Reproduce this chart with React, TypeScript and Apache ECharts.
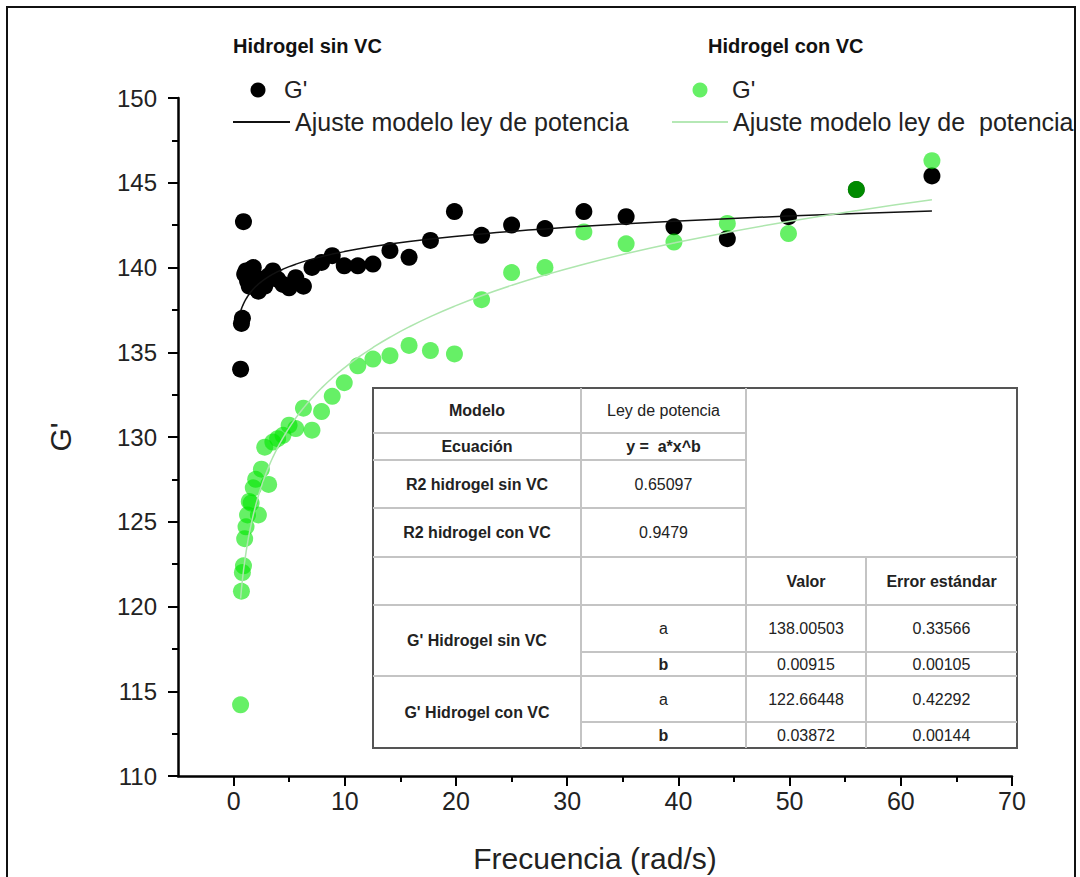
import React, { useEffect, useRef } from "react";
import * as echarts from "echarts";

// Frequency (rad/s) of each measurement
const frequency = [
  0.628, 0.705, 0.791, 0.887, 0.995, 1.117, 1.253, 1.406, 1.578, 1.77, 1.986,
  2.23, 2.5, 2.8, 3.15, 3.53, 3.96, 4.44, 4.99, 5.59, 6.28, 7.05, 7.91, 8.87,
  9.95, 11.17, 12.53, 14.06, 15.78, 17.7, 19.86, 22.3, 25.0, 28.0, 31.5, 35.3,
  39.6, 44.4, 49.9, 56.0, 62.8,
];

// G' Hidrogel sin VC
const gSinVC = [
  134.0, 136.7, 137.0, 142.7, 139.6, 139.8, 139.2, 138.9, 139.9, 140.0, 138.8,
  138.6, 139.3, 138.9, 139.5, 139.8, 139.3, 139.0, 138.8, 139.4, 138.9, 140.0,
  140.3, 140.7, 140.1, 140.1, 140.2, 141.0, 140.6, 141.6, 143.3, 141.9, 142.5,
  142.3, 143.3, 143.0, 142.4, 141.7, 143.0, 144.6, 145.4,
];

// G' Hidrogel con VC
const gConVC = [
  114.2, 120.9, 122.0, 122.4, 124.0, 124.7, 125.4, 126.2, 126.1, 127.0, 127.5,
  125.4, 128.1, 129.4, 127.2, 129.7, 129.9, 130.1, 130.7, 130.5, 131.7, 130.4,
  131.5, 132.4, 133.2, 134.2, 134.6, 134.8, 135.4, 135.1, 134.9, 138.1, 139.7,
  140.0, 142.1, 141.4, 141.5, 142.6, 142.0, 144.6, 146.3,
];

// Power-law model parameters (from the table)
const fitSinVC = { a: 138.00503, b: 0.00915 };
const fitConVC = { a: 122.66448, b: 0.03872 };

const xMajorTicks = [0, 10, 20, 30, 40, 50, 60, 70];
const xMinorTicks = [5, 15, 25, 35, 45, 55, 65];

const tableTopRows = [
  ["Modelo", "Ley de potencia"],
  ["Ecuación", "y =  a*x^b"],
  ["R2 hidrogel sin VC", "0.65097"],
  ["R2 hidrogel con VC", "0.9479"],
];
const tableParamHeader = ["Valor", "Error estándar"];
const tableParamRows = [
  { name: "G' Hidrogel sin VC", rows: [["a", "138.00503", "0.33566"], ["b", "0.00915", "0.00105"]] },
  { name: "G' Hidrogel con VC", rows: [["a", "122.66448", "0.42292"], ["b", "0.03872", "0.00144"]] },
];

const FONT = "'Liberation Sans', Arial, Helvetica, sans-serif";

function txt(x: number, y: number, text: string, size: number, bold = false, align = "center", color = "#222") {
  return {
    type: "text",
    x,
    y,
    z: 20,
    style: {
      text,
      fontSize: size,
      fontWeight: bold ? "bold" : "normal",
      fontFamily: FONT,
      fill: color,
      align,
      verticalAlign: "middle",
    },
  };
}

function ln(x1: number, y1: number, x2: number, y2: number, color: string, width: number) {
  return {
    type: "line",
    z: 19,
    shape: { x1, y1, x2, y2 },
    style: { stroke: color, lineWidth: width },
  };
}

function buildTable() {
  const cx = [373, 581, 746, 866, 1017];
  const ry = [388, 433, 460, 508, 557, 605, 652, 676, 722, 748];
  const inner = "#c4c4c4";
  const els: any[] = [];
  els.push({
    type: "rect",
    z: 18,
    shape: { x: cx[0], y: ry[0], width: cx[4] - cx[0], height: ry[9] - ry[0] },
    style: { fill: "#fff", stroke: "#555", lineWidth: 2 },
  });
  els.push(ln(cx[1], ry[0], cx[1], ry[9], inner, 2));
  els.push(ln(cx[2], ry[0], cx[2], ry[9], inner, 2));
  els.push(ln(cx[3], ry[4], cx[3], ry[9], inner, 2));
  [ry[1], ry[2], ry[3]].forEach((y) => els.push(ln(cx[0], y, cx[2], y, inner, 2)));
  [ry[4], ry[5], ry[7]].forEach((y) => els.push(ln(cx[0], y, cx[4], y, inner, 2)));
  [ry[6], ry[8]].forEach((y) => els.push(ln(cx[1], y, cx[4], y, inner, 2)));
  const mid = (a: number, b: number) => (a + b) / 2;
  tableTopRows.forEach((r, i) => {
    const y = mid(ry[i], ry[i + 1]);
    els.push(txt(mid(cx[0], cx[1]), y, r[0], 16, true));
    els.push(txt(mid(cx[1], cx[2]), y, r[1], 16, i === 1));
  });
  els.push(txt(mid(cx[2], cx[3]), mid(ry[4], ry[5]), tableParamHeader[0], 16, true));
  els.push(txt(mid(cx[3], cx[4]), mid(ry[4], ry[5]), tableParamHeader[1], 16, true));
  tableParamRows.forEach((g, gi) => {
    const top = ry[5 + gi * 2];
    const midY = ry[6 + gi * 2];
    const bot = ry[7 + gi * 2];
    els.push(txt(mid(cx[0], cx[1]), mid(top, bot), g.name, 16, true));
    const ys = [mid(top, midY), mid(midY, bot)];
    g.rows.forEach((r, ri) => {
      els.push(txt(mid(cx[1], cx[2]), ys[ri], r[0], 16, ri === 1));
      els.push(txt(mid(cx[2], cx[3]), ys[ri], r[1], 16));
      els.push(txt(mid(cx[3], cx[4]), ys[ri], r[2], 16));
    });
  });
  return els;
}

function buildLegend() {
  return [
    txt(233, 46, "Hidrogel sin VC", 20, true, "left", "#111"),
    { type: "circle", z: 20, shape: { cx: 258, cy: 90, r: 7.5 }, style: { fill: "#000" } },
    txt(284, 89, "G'", 24, false, "left", "#222"),
    ln(233, 122, 290, 122, "#111", 2),
    txt(295, 122, "Ajuste modelo ley de potencia", 25, false, "left", "#222"),
    txt(708, 46, "Hidrogel con VC", 20, true, "left", "#111"),
    { type: "circle", z: 20, shape: { cx: 700, cy: 90, r: 7.5 }, style: { fill: "#66f066" } },
    txt(732, 89, "G'", 24, false, "left", "#222"),
    ln(672, 122, 728, 122, "#b5e8b5", 2),
    txt(733, 122, "Ajuste modelo ley de  potencia", 25, false, "left", "#222"),
  ];
}

export default function App() {
  const ref = useRef<HTMLDivElement>(null);
  useEffect(() => {
    if (!ref.current) return;
    const chart = echarts.init(ref.current, null, { renderer: "svg" });
    const sinPts = frequency.map((f, i) => [f, gSinVC[i]]);
    const conPts = frequency.map((f, i) => [f, gConVC[i]]);
    const sinFit = frequency.map((f) => [f, fitSinVC.a * Math.pow(f, fitSinVC.b)]);
    const conFit = frequency.map((f) => [f, fitConVC.a * Math.pow(f, fitConVC.b)]);

    chart.setOption({
      animation: false,
      backgroundColor: "#fff",
      grid: { left: 178, right: 68, top: 98, bottom: 101, containLabel: false },
      xAxis: [
        {
          type: "value",
          min: -5,
          max: 70,
          axisLine: { show: true, onZero: false, lineStyle: { color: "#000", width: 2.5 } },
          axisTick: { show: true, customValues: xMajorTicks, length: 10, lineStyle: { color: "#000", width: 2 } },
          axisLabel: { customValues: xMajorTicks, fontSize: 25, color: "#222", margin: 12, fontFamily: FONT },
          splitLine: { show: false },
        },
        {
          type: "value",
          min: -5,
          max: 70,
          position: "bottom",
          axisLine: { show: false },
          axisTick: { show: true, customValues: xMinorTicks, length: 6, lineStyle: { color: "#000", width: 2 } },
          axisLabel: { show: false },
          splitLine: { show: false },
        },
      ],
      yAxis: {
        type: "value",
        min: 110,
        max: 150,
        interval: 5,
        axisLine: { show: true, onZero: false, lineStyle: { color: "#000", width: 2.5 } },
        axisTick: { show: true, length: 10, lineStyle: { color: "#000", width: 2 } },
        minorTick: { show: true, splitNumber: 2, length: 6, lineStyle: { color: "#000", width: 2 } },
        axisLabel: { fontSize: 24, color: "#222", margin: 21, fontFamily: FONT },
        splitLine: { show: false },
      },
      series: [
        {
          type: "scatter",
          name: "G' sin VC",
          data: sinPts,
          symbol: "circle",
          symbolSize: 17,
          itemStyle: { color: "#000", opacity: 1 },
          z: 2,
        },
        {
          type: "scatter",
          name: "G' con VC",
          data: conPts,
          symbol: "circle",
          symbolSize: 17,
          itemStyle: { color: "#00e600", opacity: 0.6 },
          z: 3,
        },
        {
          type: "line",
          name: "Ajuste sin VC",
          data: sinFit,
          showSymbol: false,
          smooth: true,
          lineStyle: { color: "#111", width: 1.5 },
          z: 4,
        },
        {
          type: "line",
          name: "Ajuste con VC",
          data: conFit,
          showSymbol: false,
          smooth: true,
          lineStyle: { color: "#aee6ae", width: 1.5 },
          z: 4,
        },
      ],
      graphic: [
        {
          type: "rect",
          z: 30,
          shape: { x: 7, y: 7, width: 1068, height: 880 },
          style: { fill: "none", stroke: "#111", lineWidth: 2 },
        },
        ...buildLegend(),
        ...buildTable(),
        txt(595, 858, "Frecuencia (rad/s)", 30, false, "center", "#222"),
        {
          type: "text",
          x: 60,
          y: 437,
          rotation: Math.PI / 2,
          z: 20,
          style: {
            text: "G'",
            fontSize: 30,
            fontFamily: FONT,
            fill: "#222",
            align: "center",
            verticalAlign: "middle",
          },
        },
      ],
    });
    return () => chart.dispose();
  }, []);
  return (
    <div
      ref={ref}
      style={{ position: "fixed", left: 0, top: 0, width: 1080, height: 877, background: "#fff" }}
    />
  );
}
